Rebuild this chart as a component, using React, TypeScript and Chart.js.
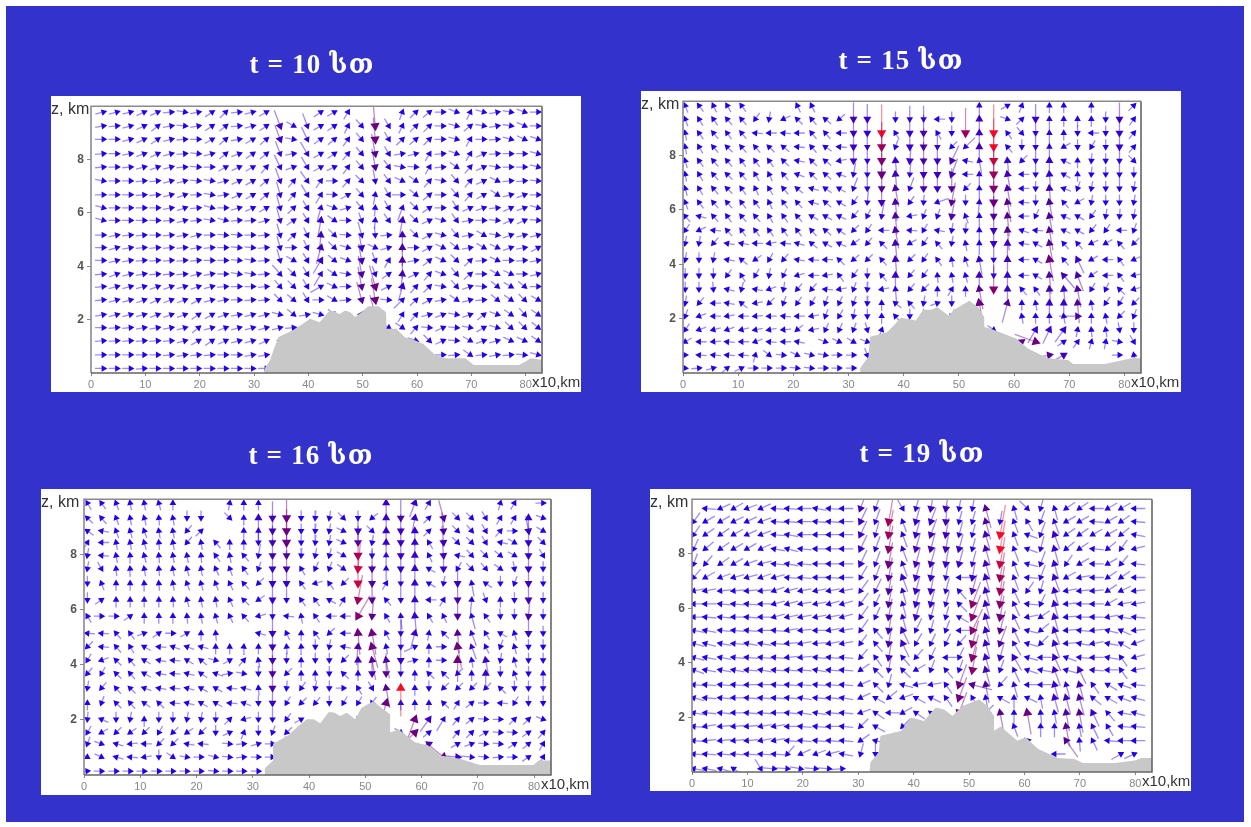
import React, { useEffect, useRef } from "react";
import { Chart, registerables } from "chart.js";
Chart.register(...registerables);

const _ = null;
const xTicks = [0, 10, 20, 30, 40, 50, 60, 70, 80];
const zTicks = [2, 4, 6, 8];

const title1 = "t = 10 სთ";
const title2 = "t = 15 სთ";
const title3 = "t = 16 სთ";
const title4 = "t = 19 სთ";

// terrain outlines: x (×10 km) and z (km)
const ground1X = [32, 33, 33.6, 34.5, 37.2, 39, 40.3, 42.1, 43.7, 44.6, 45.7, 46.7, 47.7, 48.6, 49.8, 51, 52.9, 54.3, 54.4, 56.2, 57.7, 59.6, 61.1, 63.3, 65.3, 68.9, 70.4, 78.7, 80, 80.9, 83];
const ground1Z = [0.18, 0.5, 0.86, 1.35, 1.6, 1.85, 2.03, 1.9, 2.3, 2.33, 2.2, 2.33, 2.28, 2.1, 2.28, 2.5, 2.5, 2.28, 1.66, 1.66, 1.35, 1.23, 1.1, 0.68, 0.55, 0.55, 0.3, 0.3, 0.43, 0.55, 0.5];
const ground2X = [32.1, 33.6, 33.9, 37, 39.5, 42.2, 43.5, 44.9, 46.1, 48.2, 49.1, 51.9, 53.5, 54.6, 54.6, 55.8, 58.8, 60.4, 62.5, 66.1, 69.8, 70.7, 76.4, 81.3, 83];
const ground2Z = [0.18, 0.6, 1.33, 1.5, 2.03, 1.93, 2.33, 2.33, 2.42, 2.11, 2.33, 2.66, 2.42, 2.05, 1.69, 1.63, 1.39, 1.27, 0.9, 0.54, 0.48, 0.33, 0.33, 0.54, 0.54];
const ground3X = [32.1, 33.6, 33.6, 36.3, 37.8, 39.6, 40.8, 42, 43.5, 44.6, 45.5, 46.7, 48.2, 49.3, 51.4, 52.9, 54.4, 54.4, 55.9, 58.8, 61.2, 63.3, 66.8, 70.4, 79.9, 80.8, 83];
const ground3Z = [0.24, 0.53, 1.13, 1.43, 1.72, 2.02, 2.02, 1.88, 2.28, 2.26, 2.14, 2.26, 2.02, 2.43, 2.67, 2.43, 2.2, 1.54, 1.66, 1.19, 1.07, 0.71, 0.59, 0.36, 0.36, 0.53, 0.53];
const ground4X = [32, 32.2, 33.7, 34, 37.7, 39.5, 41.9, 43.1, 44, 45.5, 47, 48.8, 51.8, 53.3, 54.5, 54.5, 55.7, 58.7, 60.2, 62.4, 66, 69, 70.5, 76.3, 79.9, 81.1, 83];
const ground4Z = [0, 0.36, 0.72, 1.33, 1.5, 2, 1.87, 2.17, 2.36, 2.29, 2.05, 2.42, 2.66, 2.42, 2.05, 1.51, 1.67, 1.15, 1.27, 0.85, 0.51, 0.48, 0.33, 0.33, 0.42, 0.51, 0.51];

// arrow-head columns (×10 km)
const cols1 = [2.3, 4.8, 7.3, 9.8, 12.3, 14.8, 17.3, 19.8, 22.3, 24.8, 27.3, 29.8, 32.3, 34.8, 37.3, 39.8, 42.3, 44.8, 47.3, 49.8, 52.3, 54.8, 57.3, 59.8, 62.3, 64.8, 67.3, 69.8, 72.3, 74.8, 77.3, 79.8, 82.3];
const cols2 = [0.4, 2.9, 5.5, 8, 10.6, 13.1, 15.6, 18.2, 20.7, 23.3, 25.8, 28.3, 30.9, 33.4, 36, 38.5, 41.1, 43.6, 46.1, 48.7, 51.2, 53.7, 56.3, 58.8, 61.4, 63.9, 66.4, 69, 71.5, 74, 76.6, 79.1, 81.7];
const cols3 = [0.6, 3.1, 5.7, 8.2, 10.7, 13.3, 15.8, 18.3, 20.8, 23.4, 25.9, 28.4, 31, 33.5, 36, 38.6, 41.1, 43.6, 46.1, 48.7, 51.2, 53.7, 56.3, 58.8, 61.3, 63.9, 66.4, 68.9, 71.4, 74, 76.5, 79, 81.6];
const cols4 = [0.3, 2.4, 5.1, 7.5, 9.9, 12.4, 14.8, 17.2, 19.6, 22.3, 24.7, 27.1, 30.4, 33.1, 35.5, 38, 40.4, 43.1, 45.8, 48.2, 50.6, 53, 55.6, 58.1, 60.5, 62.9, 65.4, 67.5, 69.9, 72.3, 75, 77.4, 79.8];

// arrow-head rows (km)
const rows1 = [9.78, 9.26, 8.76, 8.22, 7.72, 7.2, 6.68, 6.19, 5.72, 5.17, 4.7, 4.22, 3.71, 3.24, 2.74, 2.19, 1.7, 1.21, 0.68, 0.17];
const rows2 = [9.84, 9.34, 8.83, 8.32, 7.81, 7.31, 6.79, 6.28, 5.77, 5.25, 4.77, 4.17, 3.59, 3.08, 2.57, 2.09, 1.59, 1.15, 0.66, 0.18];
const rows3 = [9.86, 9.32, 8.85, 8.43, 7.96, 7.48, 6.95, 6.35, 5.76, 5.14, 4.65, 4.16, 3.68, 3.15, 2.61, 2.02, 1.54, 1.13, 0.65, 0.14];
const rows4 = [9.66, 9.18, 8.7, 8.18, 7.63, 7.13, 6.64, 6.16, 5.68, 5.19, 4.71, 4.2, 3.74, 3.2, 2.72, 2.17, 1.67, 1.15, 0.66, 0.12];

// wind direction in degrees (0 = east, 90 = up), top row first
const dir1 = [
  [15,15,15,25,25,5,-10,10,35,45,5,15,30,_,_,_,35,30,60,_,_,_,70,45,40,0,-20,65,-15,10,-10,-20,0],
  [10,5,15,25,40,10,-5,10,35,40,5,15,35,-70,-30,-70,30,35,65,-50,-85,-60,65,45,45,0,-15,40,-10,10,-10,-25,0],
  [0,0,15,25,35,15,5,0,30,40,10,30,40,-70,-10,-65,35,40,55,-50,-85,-60,45,40,45,0,-15,60,0,5,-15,-25,-20],
  [5,0,10,20,25,15,5,-5,15,40,20,35,40,-70,10,-60,30,35,50,-50,-80,-60,10,15,60,5,-20,60,25,5,0,0,-15],
  [5,0,5,15,20,15,5,-5,0,30,25,30,50,-65,20,-60,30,25,55,-50,-80,-55,-10,-5,60,5,-35,50,25,-10,0,0,-15],
  [-10,0,0,5,5,15,15,-5,-10,15,25,30,40,-70,50,-55,55,0,50,-45,-80,-55,-25,-35,50,-10,-50,50,25,-25,5,5,-5],
  [0,0,0,5,5,15,20,0,-10,10,25,30,40,-75,50,-60,60,-5,30,-50,80,-60,0,-40,40,0,-50,50,30,-35,15,20,0],
  [-15,0,0,0,0,10,20,5,-15,0,15,25,30,-75,45,-60,75,-20,15,-50,85,-60,70,-45,35,0,-60,25,20,5,25,20,-15],
  [-15,0,0,0,0,5,15,5,-10,-15,5,5,15,-75,35,-60,80,-35,0,-70,85,-55,80,-45,25,-15,-55,10,0,-5,25,25,-5],
  [0,10,5,5,0,5,10,15,0,-5,-5,0,5,-75,45,-65,85,-45,-5,-75,-85,5,90,-45,30,-15,-50,10,-30,-10,20,15,15],
  [0,15,10,5,5,5,5,10,5,0,-5,-5,5,-75,0,-65,75,-45,-15,-80,-25,15,90,0,30,-25,-40,10,-30,-25,20,10,30],
  [0,15,10,5,5,5,5,5,0,0,-5,-10,5,-75,-30,-60,60,-40,-20,-80,-70,60,90,10,40,-25,-45,45,5,-25,0,5,10],
  [5,20,15,10,5,5,5,15,10,0,-10,-10,5,-50,-45,-60,60,-35,-10,-80,-70,35,85,25,50,-20,-50,40,0,-30,-25,0,15],
  [5,15,15,15,20,20,15,20,15,5,0,0,5,-50,-45,-60,30,-25,0,-80,-75,25,75,50,45,-10,-50,20,-5,-40,-30,-40,0],
  [5,15,15,20,25,20,20,30,15,10,0,5,5,-45,-40,-60,0,-30,5,-75,-80,-5,45,45,30,10,-35,15,5,-40,-35,-45,-30],
  [10,15,15,15,20,20,20,35,30,20,10,15,15,-15,-40,10,-15,-40,0,60,-75,_,60,50,15,20,-10,20,40,-20,-35,-50,-35],
  [0,5,5,10,10,10,15,40,15,20,15,15,15,15,5,_,_,_,_,_,_,-35,-35,50,-5,25,-5,-10,30,-15,-45,-45,-40],
  [5,5,5,5,5,5,15,30,35,25,15,15,25,55,50,_,_,_,_,_,_,_,_,-20,-45,25,-5,-30,20,15,-25,-25,-35],
  [0,0,0,0,0,5,10,5,5,0,0,10,10,60,_,_,_,_,_,_,_,_,_,_,_,0,5,-35,5,10,5,-5,-15],
  [0,0,0,5,0,0,0,0,0,0,0,0,0,_,_,_,_,_,_,_,_,_,_,_,_,_,_,_,-20,0,0,0,_],
];
const dir2 = [
  [110,125,115,120,125,_,_,_,115,115,_,_,_,_,_,_,_,_,_,_,_,90,_,30,70,_,90,90,_,90,_,_,45],
  [110,120,125,130,130,-125,-100,-155,135,130,140,-140,-90,-90,_,-90,-90,-90,180,-90,_,90,_,-20,45,-90,90,90,90,90,-90,-90,55],
  [100,125,130,125,130,175,180,175,180,130,130,180,-90,-90,-90,120,-90,-90,120,-90,-90,90,-90,125,-50,-90,90,90,-90,180,-90,-90,50],
  [100,120,130,135,130,130,135,140,175,130,145,175,-90,-90,-90,-110,-90,-90,-90,-135,-135,90,-90,130,-90,-90,90,-150,-90,-120,-90,-90,50],
  [105,125,130,130,125,125,125,135,170,135,140,-170,-90,-90,-90,95,-95,-90,-90,-115,170,100,-90,95,-135,-90,90,155,90,-95,-90,-90,-45],
  [100,120,130,135,130,120,115,130,160,135,140,160,-100,-90,-90,95,-95,-90,-90,-110,180,90,-90,100,180,-90,95,150,90,-95,-90,-90,-90],
  [105,120,130,135,125,115,120,130,140,165,145,150,-110,-90,-90,100,-110,-90,-90,-90,-135,90,-90,100,180,-90,95,160,-110,-100,-90,-90,-100],
  [110,125,130,130,125,125,115,125,130,165,140,150,-125,-95,-90,95,-125,-95,-160,-100,-90,85,-90,100,175,-90,100,130,-150,-100,-90,-90,-100],
  [130,165,130,125,130,130,120,125,130,150,150,155,-130,-115,-100,95,-170,-110,-110,-100,110,90,-90,95,180,-115,100,155,150,-125,-100,-95,-100],
  [-125,-155,175,130,125,125,125,125,125,130,140,145,-135,-125,180,100,175,-120,170,-100,-95,90,-90,95,160,175,100,155,150,-130,-125,180,-110],
  [-100,-100,-130,170,170,180,-170,175,165,140,150,155,-145,-130,135,95,-150,-125,130,-100,100,90,-90,90,170,150,100,130,130,-155,-150,130,-135],
  [-100,-90,-100,170,140,-145,-120,-130,170,175,180,135,-140,-135,130,95,-135,-125,125,100,110,100,-90,90,180,150,100,130,115,-150,180,125,-155],
  [-90,-90,-90,-125,120,-120,-100,-115,-165,180,-170,125,-125,-90,130,90,-130,-125,95,100,105,90,-90,90,180,150,95,130,110,-145,180,125,-170],
  [-90,-90,-85,165,-105,170,-160,-100,-130,-130,175,-170,-110,-95,-170,95,-130,-135,90,60,90,100,-90,90,130,125,95,95,100,-120,-115,135,-165],
  [-100,-130,180,170,140,-170,-135,-110,-125,-120,-110,-115,-110,-95,90,140,130,-100,20,-90,_,100,_,75,90,100,90,90,95,100,-125,-120,-135],
  [-110,-160,180,-170,180,-175,180,175,180,-170,-110,-120,-100,-90,90,130,-90,-90,_,-110,_,_,_,_,100,90,90,100,0,90,100,-135,-110],
  [-125,-160,-165,-160,-165,-170,-170,-175,-140,-170,-115,-115,-110,-75,70,_,_,_,_,_,_,_,-35,_,_,60,65,55,80,95,100,-80,-90],
  [-150,180,-175,175,180,-160,175,180,170,_,-20,-25,-30,-20,-75,_,_,_,_,_,_,_,_,_,35,-20,_,35,55,75,80,-10,-60],
  [0,175,175,175,175,75,-40,-5,-25,-15,-10,0,0,-70,_,_,_,_,_,_,_,_,_,_,_,_,10,30,_,_,_,0,100],
  [-5,5,15,40,25,0,0,0,-5,-5,0,0,0,_,_,_,_,_,_,_,_,_,_,_,_,_,_,_,_,-5,0,100,_],
];
const dir3 = [
  [120,125,110,100,100,105,90,_,_,_,80,90,90,_,_,_,_,_,_,_,_,90,_,70,60,_,_,_,_,75,60,_,0],
  [135,130,110,100,105,95,100,-90,-90,_,-45,90,90,-90,-90,-90,-95,-100,-45,-90,-140,90,-90,80,45,-75,-45,-45,-60,60,60,90,-20],
  [145,170,110,105,110,100,100,-130,45,_,_,90,90,-90,-90,-90,-95,-100,-25,-90,-45,90,-90,90,45,-85,-45,-50,-60,50,0,-80,-30],
  [60,180,100,100,105,95,100,-130,100,130,90,90,-90,-90,-90,-90,-95,-100,-25,-90,-100,90,-90,90,120,-85,-45,-45,-60,170,-30,-90,-45],
  [-100,175,100,95,105,95,100,100,95,125,100,130,-100,-90,-90,-95,-100,-105,-30,-90,-90,90,-90,90,115,-85,170,-50,-45,-40,-30,-90,-60],
  [-100,-60,95,95,100,95,100,105,100,115,110,125,-110,-90,-90,120,-115,-110,-35,-95,-90,90,-90,90,150,-90,-120,-45,-50,-35,-80,-90,-90],
  [-90,110,90,90,95,95,100,110,105,110,115,130,-135,-90,-90,125,-165,125,-135,-90,-90,60,-90,90,150,-100,-90,100,145,-90,-110,-90,-90],
  [-90,35,90,90,90,90,95,105,100,100,115,135,-145,-90,-90,125,125,150,60,-100,-90,130,-90,90,180,60,-90,85,-70,90,-90,-90,-90],
  [120,0,0,35,90,90,90,95,100,105,115,130,-165,-90,175,100,125,180,180,-120,-95,120,95,95,120,115,-90,105,125,-85,-90,-95,-90],
  [175,175,130,125,20,35,0,30,90,95,_,_,165,-90,115,90,125,-135,180,95,100,115,-90,75,80,135,95,110,120,150,105,-90,-90],
  [-135,175,130,120,150,175,160,160,165,90,90,85,90,-90,95,95,-90,-100,170,85,105,100,-90,25,90,0,100,110,115,-110,105,-90,-90],
  [-120,-160,135,130,150,170,175,150,140,-15,30,50,100,-90,-90,90,-90,-90,-135,90,100,100,-90,15,90,0,90,100,100,-100,105,-90,-90],
  [-130,-120,135,130,150,170,175,165,145,160,10,-10,-90,-90,-135,90,90,-90,135,90,-90,-90,-90,90,135,135,-135,90,90,-90,110,-90,90],
  [-100,-130,130,135,160,170,175,165,150,150,175,165,95,-90,-95,-125,-100,-90,0,120,-60,100,90,90,-90,-135,-135,-135,-135,135,-90,-90,-90],
  [90,-110,135,130,145,135,175,165,150,150,175,160,-90,-90,-120,-135,-130,-90,-120,-120,-125,75,90,90,90,135,60,40,0,175,-120,-90,-90],
  [-95,155,-90,-100,90,-90,-90,-100,-100,-90,45,-165,-90,-90,-125,30,_,-120,_,-130,_,_,_,70,55,60,50,40,-5,0,45,45,-20],
  [-120,-150,-135,-145,-135,-120,-135,-145,-135,-90,25,70,-90,-110,-135,_,_,_,_,_,_,_,-35,45,40,_,50,45,30,-5,-5,35,50],
  [-110,-20,165,-175,180,-135,-135,170,175,_,-5,5,15,0,-80,_,_,_,_,_,_,_,_,_,25,_,30,20,-5,-5,35,40,60],
  [-30,-25,165,175,-170,-90,-35,-10,0,-15,-5,5,0,0,0,_,_,_,_,_,_,_,_,_,_,-40,-5,-5,-5,5,0,35,60],
  [5,0,0,0,0,0,0,0,0,-5,0,0,0,0,_,_,_,_,_,_,_,_,_,_,_,_,_,_,_,-5,5,5,-30],
];
const dir4 = [
  [_,175,-155,-150,-160,-155,175,175,180,170,175,180,-110,-110,_,-60,-105,-100,-100,-100,-100,105,_,105,-45,-105,105,-145,-145,180,-150,-150,180],
  [-125,-150,-150,-155,-155,-160,175,175,180,175,175,180,-115,-110,-100,110,-105,-110,-95,-105,-105,105,-100,110,120,-110,110,-150,-150,175,-150,-145,175],
  [-125,-145,-145,-150,-155,-160,175,170,180,180,180,180,-115,-105,-100,110,-105,-110,-100,-105,-105,105,-100,110,160,-110,110,-145,-145,-150,-150,-140,170],
  [-115,-140,-145,-150,-150,-155,170,165,175,180,180,180,-115,-110,-100,110,-105,-105,-100,-105,-105,105,-100,110,160,-105,105,-140,-145,175,-140,-125,-165],
  [-110,-130,-145,-150,-160,-165,175,170,175,180,180,180,-115,-110,-100,110,-105,-105,-100,-105,-105,105,-100,110,165,-110,105,-125,-150,180,-150,-130,175],
  [-130,-150,-160,-165,-165,-160,-165,175,175,180,175,180,-120,-110,-100,110,-105,-100,-100,180,-100,105,-100,110,175,-110,110,-150,-170,180,-145,-145,180],
  [-170,-170,-175,-175,-175,-175,-160,-165,-170,-170,-170,-170,-125,-115,-100,105,-105,-100,-105,130,-105,105,-100,115,-125,-105,105,-170,-175,-175,-145,-155,-175],
  [180,180,175,175,175,180,-165,-165,-170,-170,-165,-165,-125,-115,-100,105,-105,-105,-105,135,-110,105,-100,115,175,-115,105,-175,180,180,-150,-170,-170],
  [180,175,175,180,175,180,-165,-170,-170,-170,-170,-165,-125,-115,-100,105,-105,-105,-105,150,-110,105,-100,115,-170,-145,105,-175,180,180,-170,170,175],
  [170,170,175,175,175,180,175,-170,-175,180,-170,-170,-125,130,-100,115,-115,-105,-110,180,-115,105,-105,115,165,-140,110,-175,175,-175,165,155,-175],
  [165,165,170,175,170,170,175,-175,-170,-175,-170,-170,-125,130,-100,115,-120,-115,-115,-130,-105,105,-110,120,165,-135,110,-175,170,-170,170,150,-160],
  [165,170,170,175,175,175,175,-175,-175,175,175,175,-130,125,-100,130,-130,-115,180,-115,-105,105,-105,120,165,180,115,160,175,180,170,125,-165],
  [160,170,170,170,175,170,175,175,175,170,175,175,-145,135,-100,135,-150,-110,130,-110,-100,105,-110,115,160,170,110,165,115,175,180,125,-170],
  [175,175,175,175,180,180,175,175,175,175,175,175,-155,135,-105,165,-170,-170,125,-110,165,100,-130,105,180,180,105,105,105,125,150,160,175],
  [165,175,175,180,175,175,175,175,170,175,175,170,-155,150,-140,-160,150,155,125,-110,120,100,150,90,155,100,105,105,105,140,150,160,165],
  [170,175,175,180,175,175,180,175,170,170,175,175,-160,145,180,-150,145,145,_,-110,_,-135,100,90,100,95,100,100,100,115,130,170,165],
  [175,-170,-175,-175,-175,-170,-170,180,175,175,180,175,-135,150,_,-135,_,_,_,-110,_,_,_,110,_,90,90,100,100,115,120,175,175],
  [175,-175,-175,-175,-175,-170,-170,175,175,175,175,175,-145,165,175,_,_,_,_,-95,_,_,_,_,135,_,_,125,95,115,175,180,180],
  [175,175,175,175,175,175,175,-130,-155,-160,-165,170,-105,-90,_,_,_,_,_,_,_,_,_,_,_,_,180,_,_,_,_,30,25],
  [170,170,165,145,_,-60,-5,-5,-10,-5,-5,5,_,_,_,_,_,_,_,_,_,_,_,_,_,_,_,_,175,175,-170,110,_],
];

// strong arrows: [column, first row, shaft lengths going down the rows]
const strong1 = [
  [13,1,20,18,16,16,16,16,16,16,14,14,14,14],[15,1,16,16,16,14,14,14],[16,6,12,16,18,20,20,18,16,14],
  [19,9,16,18,20,22,24,22,18],[20,1,26,26,24,22,14,12],[20,13,26,26,24],[22,6,12,16,18,20,22,22,20,18,14],
];
const strong2 = [
  [12,1,20,20,18,18,14,14],[13,1,18,18,16,16,14,14,14],[14,2,34,30,28,26,24,20,16],[15,4,18,20,22,22,22,22,20,20,18,16],
  [16,1,16,18,18,18,16,14],[17,1,16,22,22,22,20,20],[18,3,16,18,20,18,14],[19,4,20,20,24,24,22],[20,2,30,16],
  [21,0,16,20,18,20,16,16,14,14,14,14,14,18,20,24,26],[22,2,34,34,32,30,28,26,24,20,18,16,14],[22,13,28],
  [23,4,18,20,22,24,24,24,20,20,18,18],[23,14,24],[25,1,18,16,14,14,14],[26,1,16,16,16,18,18,20,22,22,24,24,26,22,20,18],
  [27,12,20,18,18],[28,11,18,20,22,24,22],[31,1,20,18,18,16,16,14],[25,16,18],[26,16,18],[27,16,18],[24,17,24],[25,17,26],[26,18,24],[27,18,20],
];
const strong3 = [
  [12,1,18,16,14,14],[13,1,20,20,20,20,18,18,18,16,18,20,20,22,22,18,14],[14,1,26,26,26,24,22,18,14],
  [19,2,18,20,30,32,32,30,28,26,22,20],[20,5,22,22,24,24,26,26,24,20],[21,0,18,18,18,18,16,14],[21,11,22,24,24,26],
  [22,1,22,20,18,18,18,16,16,16,16,16,18,16],[22,13,34],[23,0,18,18,18,18,18,18,18,18,18,18,14],[23,15,26,26],
  [25,0,24,22,22,20,20,18],[26,6,18,20,22,24,26,26],[27,6,16,16,16,16,16],[28,11,18,18],[31,1,18,18,18,18,18,20,20,22,18],
  [25,18,26],[26,18,18],[27,18,16],[24,15,18],[25,15,16],[24,17,20],[31,19,14],[30,19,18],[29,19,20],
];
const strong4 = [
  [12,0,20,18,18,18,18,16,16,16,16,16],[13,0,16,16,16,16,16,16,16],[14,0,0,30,30,28,26,24,22,22,22,20,20,20,16],[15,2,16,16,16,18,16,16,16,18,18],
  [16,0,16,18,18,20,20,18,18,18,18,16,14],[17,0,18,18,20,20,20,18,18,18,16],[18,0,20,20,20,20,18,16,16,16],[19,2,16,18,18],
  [19,13,26,26,26,26],[20,4,16,18,20,28,28,28,28,28,28,24],[21,0,24,22,20,20,20,18,18,18,18,18,18,18,20,22],
  [22,1,0,36,34,32,30,30,28,26,24,22,18],[22,15,24],[23,0,14,14,14,16,16,16,16,16,16,16,16,18,16,16],[24,15,26],[25,0,14,14,16,16,16,16],
  [26,0,14,16,18,18,18,18,18,18,18,18,18,18,20,18,18],[27,12,14,16,20,22,24,24],[28,11,14,18,20,22,24],[29,15,18,16],[24,17,18],
];

type Spec = {
  title: string; titleX: number; titleY: number;
  left: number; top: number; w: number; h: number;
  pad: { l: number; t: number; r: number; b: number };
  gx: number[]; gz: number[]; cols: number[]; rows: number[]; dirs: (number | null)[][]; strong: number[][]; base: number;
};

const specs: Spec[] = [
  { title: title1, titleX: 312, titleY: 64, left: 51, top: 96, w: 530, h: 296, pad: { l: 40, t: 6, r: 39, b: 19 }, gx: ground1X, gz: ground1Z, cols: cols1, rows: rows1, dirs: dir1, strong: strong1, base: 10 },
  { title: title2, titleX: 901, titleY: 60, left: 641, top: 91, w: 540, h: 301, pad: { l: 42, t: 6, r: 40, b: 19 }, gx: ground2X, gz: ground2Z, cols: cols2, rows: rows2, dirs: dir2, strong: strong2, base: 9 },
  { title: title3, titleX: 311, titleY: 455, left: 41, top: 489, w: 550, h: 306, pad: { l: 43, t: 5, r: 40, b: 20 }, gx: ground3X, gz: ground3Z, cols: cols3, rows: rows3, dirs: dir3, strong: strong3, base: 9 },
  { title: title4, titleX: 922, titleY: 453, left: 650, top: 489, w: 541, h: 302, pad: { l: 42, t: 7, r: 39, b: 19 }, gx: ground4X, gz: ground4Z, cols: cols4, rows: rows4, dirs: dir4, strong: strong4, base: 13 },
];

const ramp: [number, number[]][] = [[13, [34, 0, 235]], [18, [55, 0, 205]], [24, [85, 0, 145]], [30, [160, 0, 90]], [34, [245, 10, 40]]];
function shade(len: number): number[] {
  if (len <= ramp[0][0]) return ramp[0][1];
  for (let i = 1; i < ramp.length; i++) {
    if (len <= ramp[i][0]) {
      const t = (len - ramp[i - 1][0]) / (ramp[i][0] - ramp[i - 1][0]);
      return ramp[i][1].map((c, j) => Math.round(ramp[i - 1][1][j] + t * (c - ramp[i - 1][1][j])));
    }
  }
  return ramp[ramp.length - 1][1];
}

function buildChart(cv: HTMLCanvasElement, s: Spec) {
  const pw = s.w - s.pad.l - s.pad.r;
  const ph = s.h - s.pad.t - s.pad.b;
  const ux = pw / 83;
  const uz = ph / 10;
  const lens = s.rows.map(() => s.cols.map(() => s.base));
  s.strong.forEach(([c, r0, ...ls]) => ls.forEach((l, i) => { if (l && r0 + i < lens.length) lens[r0 + i][c] = l; }));
  const shafts: any[] = [];
  const heads: any[] = [];
  const rot: number[] = [];
  const fills: string[] = [];
  const radii: number[] = [];
  s.rows.forEach((z, r) => s.cols.forEach((x, c) => {
    const a = s.dirs[r]?.[c];
    if (a === null || a === undefined) return;
    const L = lens[r][c];
    const rad = (a * Math.PI) / 180;
    const col = shade(L);
    const cos = Math.cos(rad), sin = Math.sin(rad);
    const back = L * 0.85;
    const tint = `rgba(${col[0]},${col[1]},${col[2]},0.45)`;
    shafts.push({ x: x - (back * cos) / ux, y: z - (back * sin) / uz, c: tint });
    shafts.push({ x: x + (1.5 * cos) / ux, y: z + (1.5 * sin) / uz, c: tint });
    shafts.push({ x: NaN, y: NaN, c: "rgba(0,0,0,0)" });
    heads.push({ x, y: z });
    rot.push(90 - a);
    fills.push(`rgb(${col[0]},${col[1]},${col[2]})`);
    radii.push(L >= 26 ? 5.4 : L >= 18 ? 4.6 : 3.8);
  }));
  const frame = {
    id: "frame",
    afterDraw(ch: any) {
      const { ctx, chartArea: a } = ch;
      ctx.save();
      ctx.strokeStyle = "#8a8a8a";
      ctx.lineWidth = 1.6;
      ctx.beginPath();
      ctx.moveTo(a.left, a.bottom); ctx.lineTo(a.left, a.top); ctx.lineTo(a.right, a.top);
      ctx.stroke();
      ctx.strokeStyle = "#666";
      ctx.beginPath();
      ctx.moveTo(a.right, a.top); ctx.lineTo(a.right, a.bottom); ctx.lineTo(a.left, a.bottom);
      ctx.stroke();
      ctx.fillStyle = "#333";
      ctx.font = "16px 'Liberation Sans'";
      ctx.textBaseline = "middle";
      ctx.textAlign = "left";
      ctx.fillText("z, km", 0, a.top + 3);
      ctx.font = "15px 'Liberation Sans'";
      ctx.fillText("x10,km", a.right - 10, a.bottom + 10);
      ctx.restore();
    },
  };
  return new Chart(cv, {
    type: "scatter",
    data: {
      datasets: [
        { type: "line", label: "ground", data: s.gx.map((x, i) => ({ x, y: s.gz[i] })).concat([{ x: 83, y: s.gz[s.gz.length - 1] }]), fill: "origin", backgroundColor: "#c8c8c8", borderWidth: 0, pointRadius: 0, tension: 0 } as any,
        { type: "line", label: "shaft", data: shafts, borderWidth: 1.3, borderColor: "rgba(34,0,235,.45)", pointRadius: 0, spanGaps: false, tension: 0, segment: { borderColor: (ctx: any) => ctx.p0.raw.c } } as any,
        { type: "scatter", label: "head", data: heads, pointStyle: "triangle", rotation: rot, pointRadius: radii, pointBackgroundColor: fills, pointBorderWidth: 0 } as any,
      ],
    },
    options: {
      animation: false,
      responsive: false,
      events: [],
      layout: { padding: { left: 0, top: s.pad.t, right: s.pad.r, bottom: 0 } },
      plugins: { legend: { display: false }, tooltip: { enabled: false } },
      scales: {
        x: {
          type: "linear", min: 0, max: 83,
          afterBuildTicks: (sc: any) => { sc.ticks = xTicks.map((value) => ({ value })); },
          afterFit: (sc: any) => { sc.height = s.pad.b; },
          grid: { drawOnChartArea: false, tickLength: 3, color: "#888" },
          border: { display: false },
          ticks: { color: "#888", font: { family: "Liberation Sans", size: 11 }, padding: 2, maxRotation: 0, autoSkip: false },
        },
        y: {
          type: "linear", min: 0, max: 10,
          afterBuildTicks: (sc: any) => { sc.ticks = zTicks.map((value) => ({ value })); },
          afterFit: (sc: any) => { sc.width = s.pad.l; },
          grid: { drawOnChartArea: false, tickLength: 4, color: "#888" },
          border: { display: false },
          ticks: { color: "#555", font: { family: "Liberation Sans", size: 12, weight: "bold" }, padding: 3 },
        },
      },
    } as any,
    plugins: [frame],
  });
}

function Panel({ s }: { s: Spec }) {
  const ref = useRef<HTMLCanvasElement>(null);
  useEffect(() => {
    const ch = buildChart(ref.current!, s);
    return () => ch.destroy();
  }, [s]);
  return (
    <>
      <div style={{ position: "absolute", left: s.titleX - 100, width: 200, top: s.titleY - 16, height: 32, lineHeight: "32px", textAlign: "center", color: "#fff", fontFamily: "'Liberation Serif','DejaVu Serif',serif", fontWeight: "bold", fontSize: 27, letterSpacing: 1.2, whiteSpace: "nowrap", filter: "blur(0.4px)" }}>{s.title}</div>
      <canvas ref={ref} width={s.w} height={s.h} style={{ position: "absolute", left: s.left, top: s.top, width: s.w, height: s.h, background: "#fff", filter: "blur(0.6px)" }} />
    </>
  );
}

export default function App() {
  return (
    <div style={{ position: "fixed", left: 0, top: 0, width: 1251, height: 827, background: "#fff", overflow: "hidden" }}>
      <div style={{ position: "absolute", left: 6, top: 6, width: 1238, height: 816, background: "#3333cc" }} />
      {specs.map((s) => <Panel key={s.title} s={s} />)}
    </div>
  );
}
